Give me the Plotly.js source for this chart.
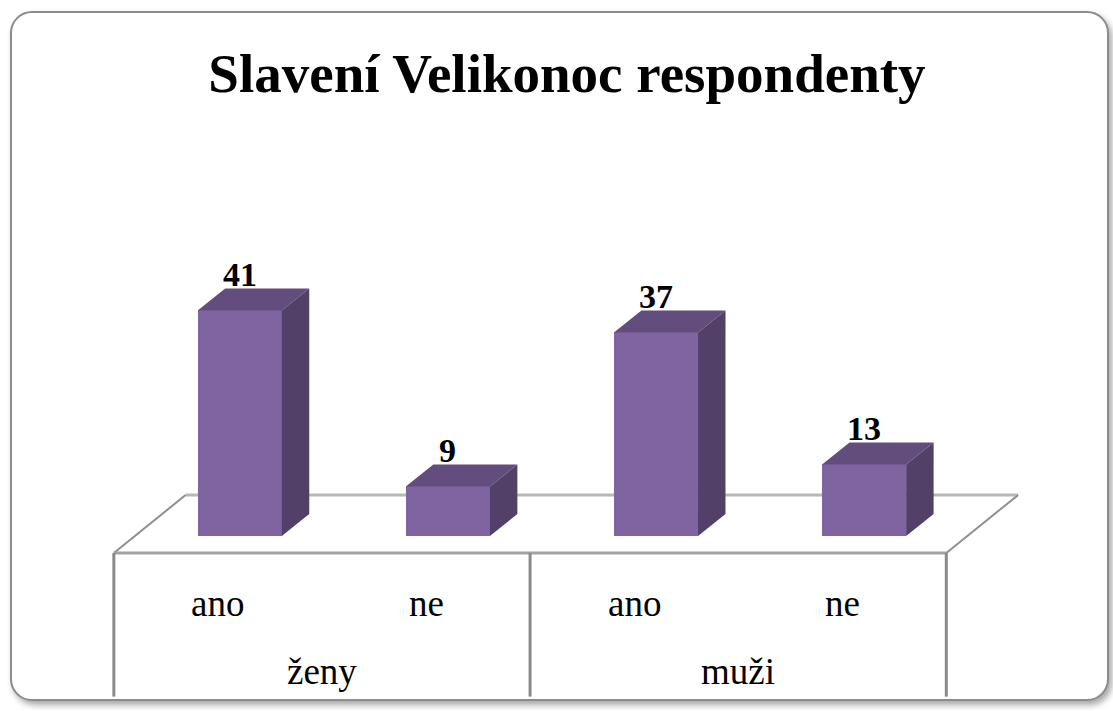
<!DOCTYPE html>
<html>
<head>
<meta charset="utf-8">
<script src="https://cdn.plot.ly/plotly-3.0.1.min.js"></script>
<style>
  html, body { margin: 0; padding: 0; background: #ffffff; }
  #frame {
    position: absolute; left: 10px; top: 11px; width: 1095px; height: 686px;
    border: 2px solid #8c8c8c; border-radius: 22px;
    box-shadow: 3px 4px 6px rgba(0,0,0,0.35);
    background: #ffffff;
  }
  #chart { position: absolute; left: 0; top: 0; width: 1113px; height: 711px; }
</style>
</head>
<body>
<div id="frame"></div>
<div id="chart"></div>
<script>
// ---- data ----
const chartTitle = 'Slavení Velikonoc respondenty';
const categories = ['ano', 'ne', 'ano', 'ne'];
const groups = ['ženy', 'muži'];
const values = [41, 9, 37, 13];

// ---- style / geometry (in axis units) ----
const BAR_W = 0.404;      // bar width in category slots
const DDX = 0.132;        // bar depth, x
const DDY = 4.0;          // bar depth, y (value units)
const FRONT_DX = -0.105, FRONT_DY = -3.09;  // floor front edge relative to bar plane
const BACK_DX = 0.24, BACK_DY = 7.45;       // floor back edge relative to bar plane
const TABLE_BOTTOM = -29.2;
const FRONT_COLOR = '#8064A2', TOP_COLOR = '#624D7C', SIDE_COLOR = '#524068';
const SERIF = '"Liberation Serif", "Times New Roman", serif';

const xs = categories.map((_, i) => i);
const n = categories.length;

const traces = [];
traces.push({
  type: 'bar', x: xs, y: values, width: BAR_W,
  marker: { color: FRONT_COLOR, line: { width: 0 } },
  hoverinfo: 'skip', showlegend: false
});
values.forEach((v, i) => {
  const l = i - BAR_W / 2, r = i + BAR_W / 2;
  traces.push({
    type: 'scatter', mode: 'lines', fill: 'toself', fillcolor: TOP_COLOR,
    x: [l, r, r + DDX, l + DDX, l], y: [v, v, v + DDY, v + DDY, v],
    line: { width: 0, color: TOP_COLOR }, hoverinfo: 'skip', showlegend: false
  });
  traces.push({
    type: 'scatter', mode: 'lines', fill: 'toself', fillcolor: SIDE_COLOR,
    x: [r, r, r + DDX, r + DDX, r], y: [0, v, v + DDY, DDY, 0],
    line: { width: 0, color: SIDE_COLOR }, hoverinfo: 'skip', showlegend: false
  });
});

const fL = -0.5 + FRONT_DX, fR = n - 0.5 + FRONT_DX;
const bL = -0.5 + BACK_DX, bR = n - 0.5 + BACK_DX;
const shapes = [
  { type: 'line', xref: 'x', yref: 'y', layer: 'below', x0: bL, x1: bR, y0: BACK_DY, y1: BACK_DY, line: { color: '#b8b8b8', width: 3 } },
  { type: 'line', xref: 'x', yref: 'y', layer: 'below', x0: fL, x1: bL, y0: FRONT_DY, y1: BACK_DY, line: { color: '#8f8f8f', width: 2 } },
  { type: 'line', xref: 'x', yref: 'y', layer: 'below', x0: fR, x1: bR, y0: FRONT_DY, y1: BACK_DY, line: { color: '#8f8f8f', width: 2 } },
  { type: 'line', xref: 'x', yref: 'y', layer: 'below', x0: fL, x1: fR, y0: FRONT_DY, y1: FRONT_DY, line: { color: '#a3a3a3', width: 3 } }
];
// table verticals: left, group separator(s), right
const groupSize = n / groups.length;
const vlinesX = [fL];
for (let g = 1; g < groups.length; g++) vlinesX.push(g * groupSize - 0.5 + FRONT_DX);
vlinesX.push(fR);
vlinesX.forEach(x => shapes.push({
  type: 'line', xref: 'x', yref: 'y', layer: 'below', x0: x, x1: x, y0: FRONT_DY, y1: TABLE_BOTTOM,
  line: { color: '#8a8a8a', width: 3 }
}));

const annotations = [];
values.forEach((v, i) => annotations.push({
  x: i, y: v + 6.6, xref: 'x', yref: 'y', text: String(v), showarrow: false,
  xanchor: 'center', yanchor: 'middle',
  font: { family: SERIF, size: 34, color: '#000000', weight: 'bold' }
}));
categories.forEach((c, i) => annotations.push({
  x: i + FRONT_DX, y: -12.2, xref: 'x', yref: 'y', text: c, showarrow: false,
  xanchor: 'center', yanchor: 'middle',
  font: { family: SERIF, size: 37, color: '#000000' }
}));
groups.forEach((g, k) => annotations.push({
  x: k * groupSize + (groupSize - 1) / 2 + FRONT_DX, y: -24.6, xref: 'x', yref: 'y', text: g, showarrow: false,
  xanchor: 'center', yanchor: 'middle',
  font: { family: SERIF, size: 37, color: '#000000' }
}));

const layout = {
  width: 1113, height: 711,
  margin: { l: 0, r: 0, t: 0, b: 0, pad: 0 },
  paper_bgcolor: 'rgba(0,0,0,0)', plot_bgcolor: 'rgba(0,0,0,0)',
  title: {
    text: '<b>' + chartTitle + '</b>', x: 0.5094, xanchor: 'center', xref: 'container',
    y: 0.897, yanchor: 'middle', yref: 'container',
    font: { family: SERIF, size: 55, color: '#000000' }
  },
  xaxis: { range: [-1.152, 4.196], visible: false, showgrid: false, zeroline: false, fixedrange: true },
  yaxis: { range: [-31.82, 97.45], visible: false, showgrid: false, zeroline: false, fixedrange: true },
  bargap: 0, showlegend: false,
  shapes: shapes, annotations: annotations
};

Plotly.newPlot('chart', traces, layout, { staticPlot: true, displayModeBar: false });
</script>
</body>
</html>
